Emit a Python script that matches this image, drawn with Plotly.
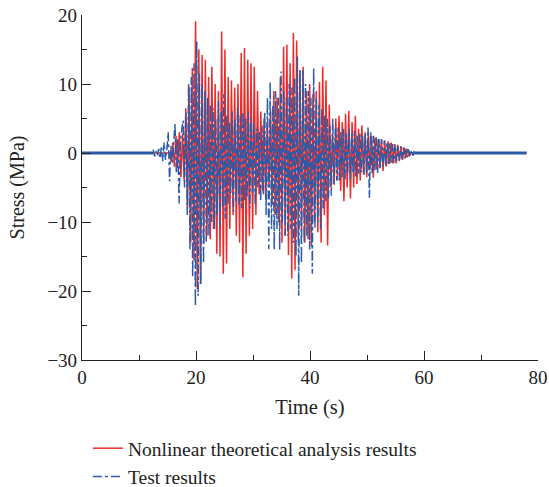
import plotly.graph_objects as go

# ---------------- data (peak values) ----------------
record_start, record_end = 0.0, 78.0

# Nonlinear theoretical analysis: extrema sampled every 0.286 s starting at 15.35 s
red_t0, red_dt = 15.35, 0.286
red_vals = [
    0.0, -1.2, 1.5, -2.0, 2.5, -2.2, 3.0, -3.5, 2.8, -4.0,
    6.5, -8.0, 9.6, -13.0, 12.3, -15.5, 19.1, -19.7, 15.0, -19.0,
    14.2, -13.0, 13.5, -12.0, 11.0, -12.5, 12.5, -11.0, 10.0, -14.6,
    9.0, -15.0, 17.6, -17.5, 15.0, -16.0, 11.0, -11.0, 10.5, -9.0,
    9.5, -12.0, 10.0, -13.0, 14.5, -18.0, 15.2, -14.6, 13.5, -12.0,
    13.0, -11.0, 12.5, -9.0, 9.0, -6.0, 6.0, -5.5, 5.0, -6.5,
    4.5, -5.0, 6.0, -7.5, 9.0, -9.0, 8.0, -10.0, 11.0, -13.0,
    15.4, -12.0, 15.7, -14.8, 13.0, -18.2, 17.4, -17.0, 16.3, -12.5,
    12.0, -11.0, 12.5, -13.0, 9.0, -12.5, 10.0, -13.5, 8.5, -10.0,
    9.0, -11.5, 10.3, -13.0, 12.5, -9.0, 10.5, -13.4, 7.0, -5.0,
    2.7, -4.6, 5.0, -4.0, 5.4, -5.5, 4.5, -7.0, 5.7, -5.0,
    6.1, -6.6, 4.5, -5.0, 5.4, -4.5, 3.5, -4.0, 4.0, -3.0,
    3.0, -3.5, 2.8, -2.5, 2.5, -3.6, 2.2, -2.4, 2.0, -2.2,
    2.0, -2.6, 1.8, -2.0, 1.7, -1.6, 1.5, -1.5, 1.3, -1.5,
    1.2, -1.2, 1.0, -1.0, 0.8, -0.7, 0.6, -0.5, 0.0,
]

# Test results: extrema sampled every 0.2385 s starting at 12.5 s
blue_t0, blue_dt = 12.5, 0.2385
blue_vals = [
    0.5, -0.5, 0.3, -0.4, 0.6, -0.8, 1.0, -1.2,
    1.5, -1.0, 0.5, 3.0, -4.1, 1.0, -1.5, 2.0,
    4.2, -3.0, 2.0, -7.3, 1.5, 3.5, 4.7, -5.0,
    6.0, -9.0, 10.0, -14.0, 11.0, -18.0, 13.0, -22.2,
    16.2, -20.7, 11.5, -19.0, 10.0, -16.0, 9.0, -13.0,
    8.0, -12.0, 7.0, -10.0, 6.5, -11.0, 5.0, -9.0,
    7.5, -10.5, 6.0, -8.0, 8.6, -9.5, 5.5, -7.5,
    4.5, -6.0, 6.0, -8.5, 5.0, -7.0, 6.5, -7.5,
    5.5, -8.0, 6.0, -7.0, 5.0, -6.5, 6.0, -8.0,
    5.0, -6.0, 4.5, -7.5, 3.5, -5.0, 3.0, -7.0,
    4.0, -6.0, 6.0, -9.0, 8.0, -13.9, 10.3, -11.0,
    7.0, -14.0, 9.0, -11.0, 8.0, -14.0, 11.8, -10.0,
    9.0, -12.0, 8.0, -12.0, 10.0, -11.0, 9.5, -13.0,
    11.0, -15.0, 14.0, -20.7, 12.0, -16.0, 12.0, -13.0,
    10.0, -12.0, 9.0, -14.0, 8.0, -17.5, 12.3, -11.0,
    8.0, -10.0, 7.0, -11.0, 6.5, -8.0, 5.5, -7.0,
    5.0, -6.5, 4.0, -6.2, 5.0, -4.5, 3.5, -4.0,
    3.7, -4.0, 3.0, -3.5, 3.5, -4.0, 3.0, -3.0,
    3.5, -3.8, 2.8, -3.0, 3.2, -3.5, 2.5, -3.0,
    3.0, -2.8, 2.5, -3.2, 2.8, -3.0, 3.7, -6.5,
    3.0, -3.0, 2.5, -2.5, 2.5, -2.9, 2.2, -2.2,
    2.0, -2.0, 1.8, -1.8, 1.6, -1.6, 1.4, -1.4,
    1.3, -1.4, 1.2, -1.2, 1.0, -1.0, 0.9, -0.9,
    0.8, -0.8, 0.6, -0.6, 0.5, -0.5, 0.4, -0.4, 0.3,
]

red_name = "Nonlinear theoretical analysis results"
blue_name = "Test results"
x_ticks = [0, 20, 40, 60, 80]
y_ticks = [-30, -20, -10, 0, 10, 20]

# ---------------- build series ----------------
red_t = [record_start] + [red_t0 + i * red_dt for i in range(len(red_vals))] + [record_end]
red_y = [0.0] + red_vals + [0.0]
blue_t = [blue_t0 + i * blue_dt for i in range(len(blue_vals))]
blue_y = list(blue_vals)

RED = "#ec2b2b"
BLUE = "#2b5ba8"
FONT = "Liberation Serif"

fig = go.Figure()
fig.add_trace(go.Scatter(x=red_t, y=red_y, mode="lines", name=red_name,
                         line=dict(color=RED, width=1.5)))
# quiet (pre/post event) part of the test record
fig.add_trace(go.Scatter(x=[record_start, blue_t[0], None, blue_t[-1], record_end],
                         y=[0, 0, None, 0, 0], mode="lines", showlegend=False,
                         line=dict(color=BLUE, width=2.8), hoverinfo="skip"))
fig.add_trace(go.Scatter(x=blue_t, y=blue_y, mode="lines", name=blue_name,
                         line=dict(color=BLUE, width=1.5, dash="dashdot")))

axis_common = dict(showline=True, linecolor="#222", linewidth=1.2, ticks="inside",
                   tickcolor="#222", ticklen=9, tickwidth=1.2, showgrid=False,
                   zeroline=False, mirror=False, automargin=False,
                   ticklabeloverflow="allow",
                   tickfont=dict(family=FONT, size=19, color="#222"))

fig.update_layout(
    width=549, height=487,
    margin=dict(l=82, r=11, t=15, b=127, autoexpand=False),
    paper_bgcolor="white", plot_bgcolor="white",
    font=dict(family=FONT, size=20, color="#222"),
    showlegend=True,
    legend=dict(x=0.013, y=-0.2, xanchor="left", yanchor="top",
                orientation="v", font=dict(family=FONT, size=19.5, color="#222"),
                bgcolor="rgba(0,0,0,0)", itemwidth=30, tracegroupgap=0),
    xaxis=dict(range=[0, 80], tickvals=x_ticks,
               title=dict(text="Time (s)", standoff=12, font=dict(family=FONT, size=20.5, color="#222")),
               minor=dict(ticks="inside", ticklen=5, tickwidth=1.2, tickcolor="#222", dtick=10),
               **axis_common),
    yaxis=dict(range=[-30, 20], tickvals=y_ticks,
               title=dict(text="Stress (MPa)", standoff=17, font=dict(family=FONT, size=20, color="#222")),
               minor=dict(ticks="inside", ticklen=5, tickwidth=1.2, tickcolor="#222", dtick=5),
               **axis_common),
)

fig.write_html("out.html", config={"displayModeBar": False},
               post_script="document.body.style.margin='0';document.body.style.overflow='hidden';")
